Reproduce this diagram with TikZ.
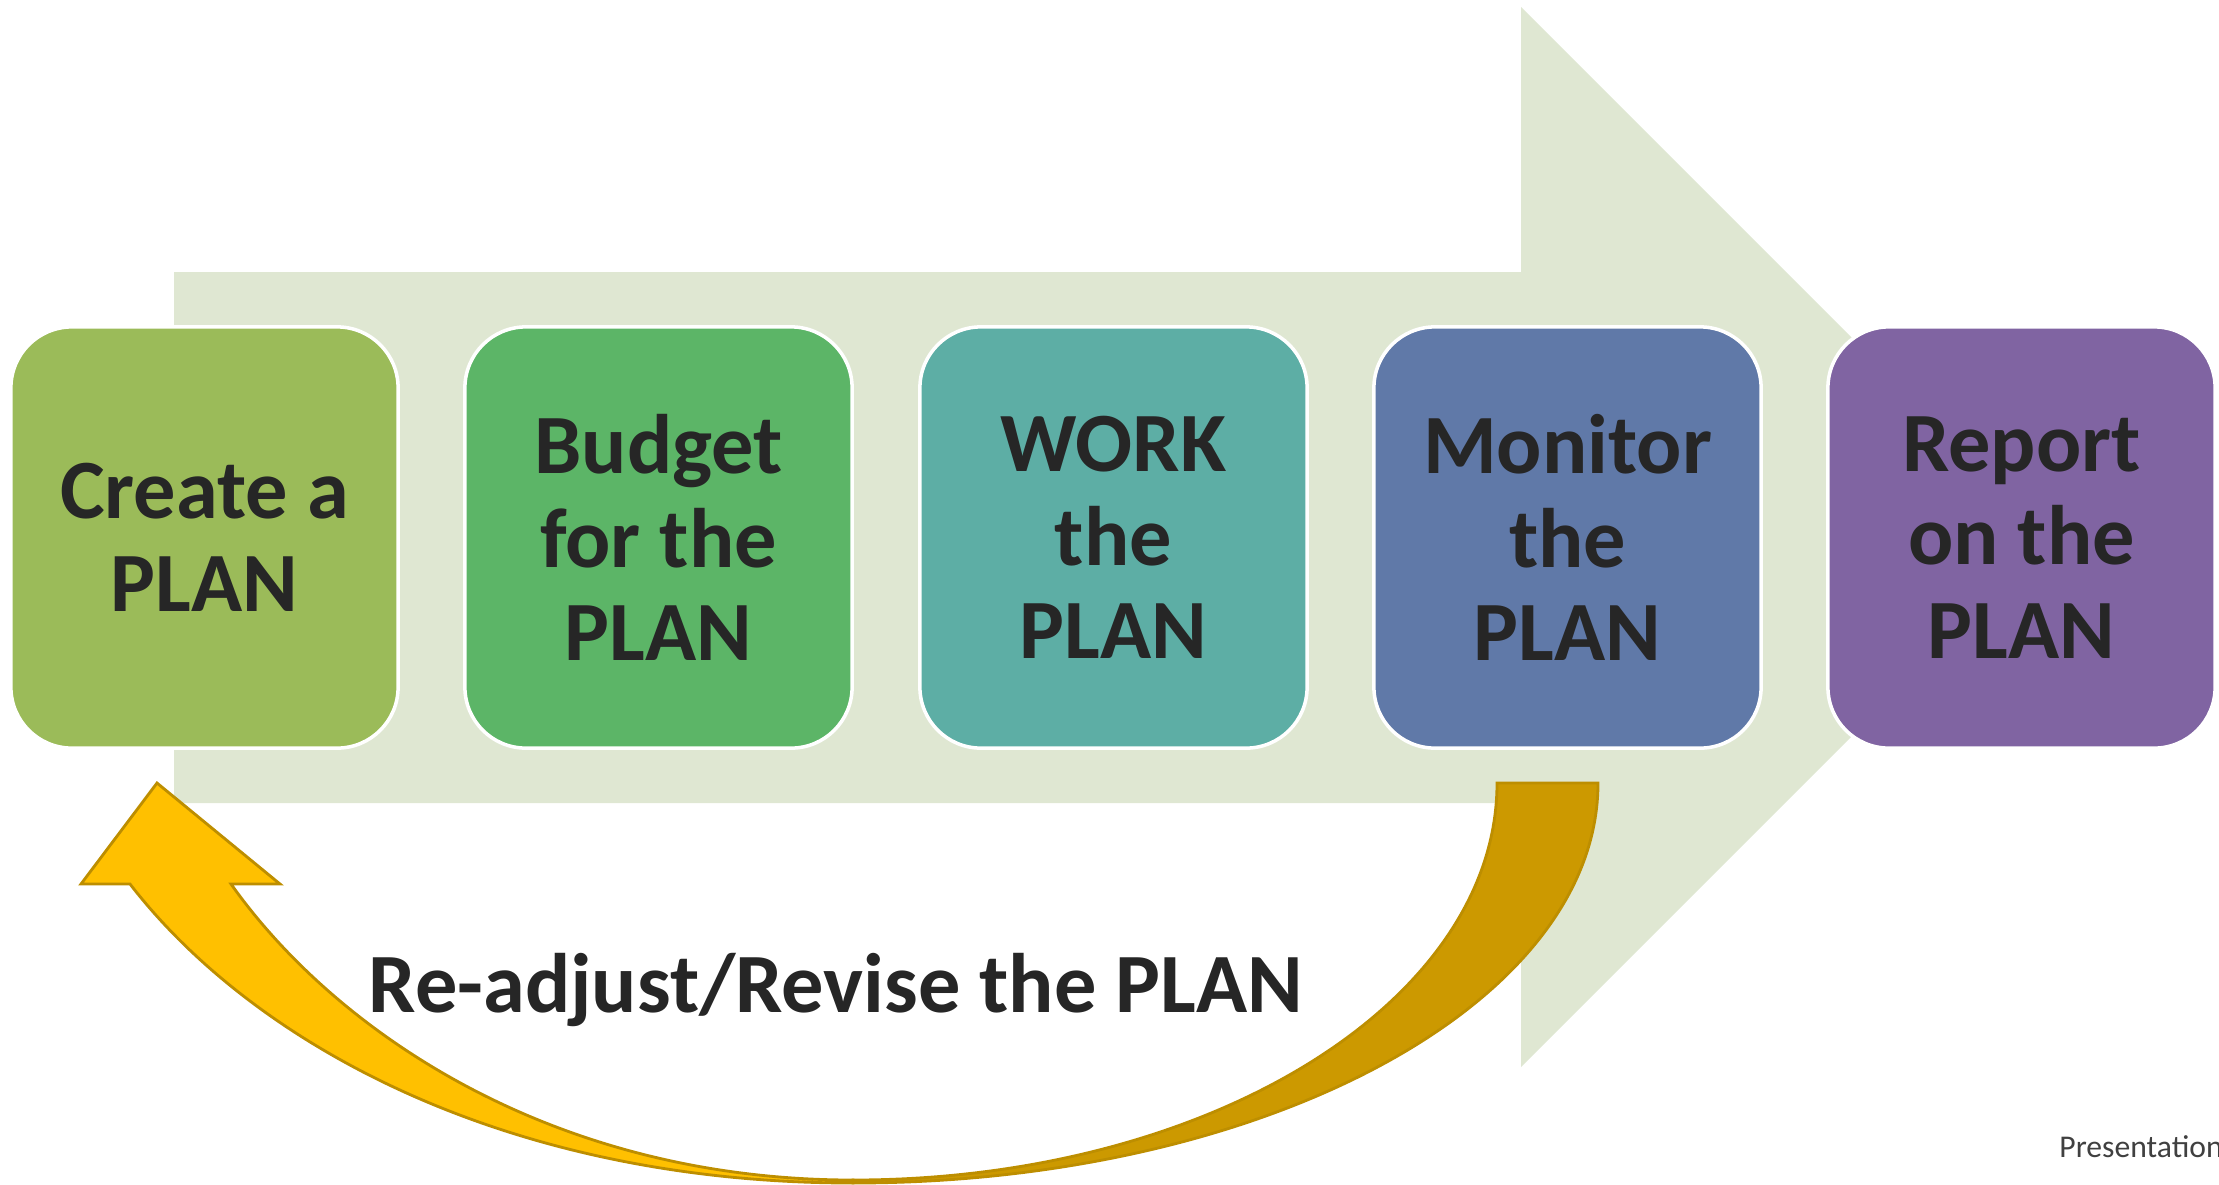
\documentclass[tikz,border=0pt]{standalone}
\usepackage{fontspec}
\setmainfont{Carlito}
\usepackage{xcolor}
\usepackage{tikz}

\definecolor{bgarrow}{RGB}{223,231,210}
\definecolor{plangreen}{RGB}{155,187,89}
\definecolor{budgetgreen}{RGB}{92,181,103}
\definecolor{workteal}{RGB}{93,174,165}
\definecolor{monitorblue}{RGB}{96,121,168}
\definecolor{reportpurple}{RGB}{128,100,162}
\definecolor{textdark}{RGB}{38,38,38}
\definecolor{goldlight}{RGB}{255,192,0}
\definecolor{golddark}{RGB}{204,153,0}
\definecolor{goldline}{RGB}{189,142,0}

\tikzset{
  stepbox/.style={draw=white, line width=1pt, rounded corners=0.61cm,
    minimum width=3.87cm, minimum height=4.21cm, inner sep=0pt,
    align=center, text=textdark,
    font=\fontsize{24}{26.5}\selectfont\bfseries},
  loopside/.style={draw=goldline, line width=0.8pt, line join=miter}
}

\begin{document}
\begin{tikzpicture}[x=0.01cm, y=-0.01cm]
    \useasboundingbox (0,0) rectangle (2219,1184);

    % Background arrow
    \fill[bgarrow] (174,272) -- (1521,272) -- (1521,7) -- (2051,537)
        -- (1521,1067) -- (1521,803) -- (174,803) -- cycle;

    % Steps
    \node[stepbox, fill=plangreen] (create) at (204.5,537.5) {Create a\\PLAN};
    \node[stepbox, fill=budgetgreen] (budget) at (658.5,537.5) {Budget\\for the\\PLAN};
    \node[stepbox, fill=workteal] (work) at (1113.5,537.5) {WORK\\the\\PLAN};
    \node[stepbox, fill=monitorblue] (monitor) at (1567.5,537.5) {Monitor\\the\\PLAN};
    \node[stepbox, fill=reportpurple] (report) at (2021.5,537.5) {Report\\on the\\PLAN};

    % Curved arrow back to the start: tail
    \draw[loopside, fill=golddark] (853,1183) .. controls (1264,1183) and (1598,1004) .. (1598,783)
        -- (1497,783) .. controls (1497,1002) and (1209,1180) .. (853,1180) -- cycle;

    % Curved arrow: head
    \draw[loopside, fill=goldlight] (853,1183) .. controls (503,1183) and (252,1042) .. (130,884)
        -- (81,884) -- (157,783) -- (280,884) -- (231,884)
        .. controls (336,1032) and (553,1180) .. (853,1180) -- cycle;

    \node[anchor=base, text=textdark, font=\fontsize{24}{26.5}\selectfont\bfseries]
        (revise) at (836,1012) {Re-adjust/Revise the PLAN};

    \node[anchor=base west, text=black!75, font=\fontsize{9}{11}\selectfont]
        (footer) at (2047,1157) {Presentation};
\end{tikzpicture}
\end{document}
